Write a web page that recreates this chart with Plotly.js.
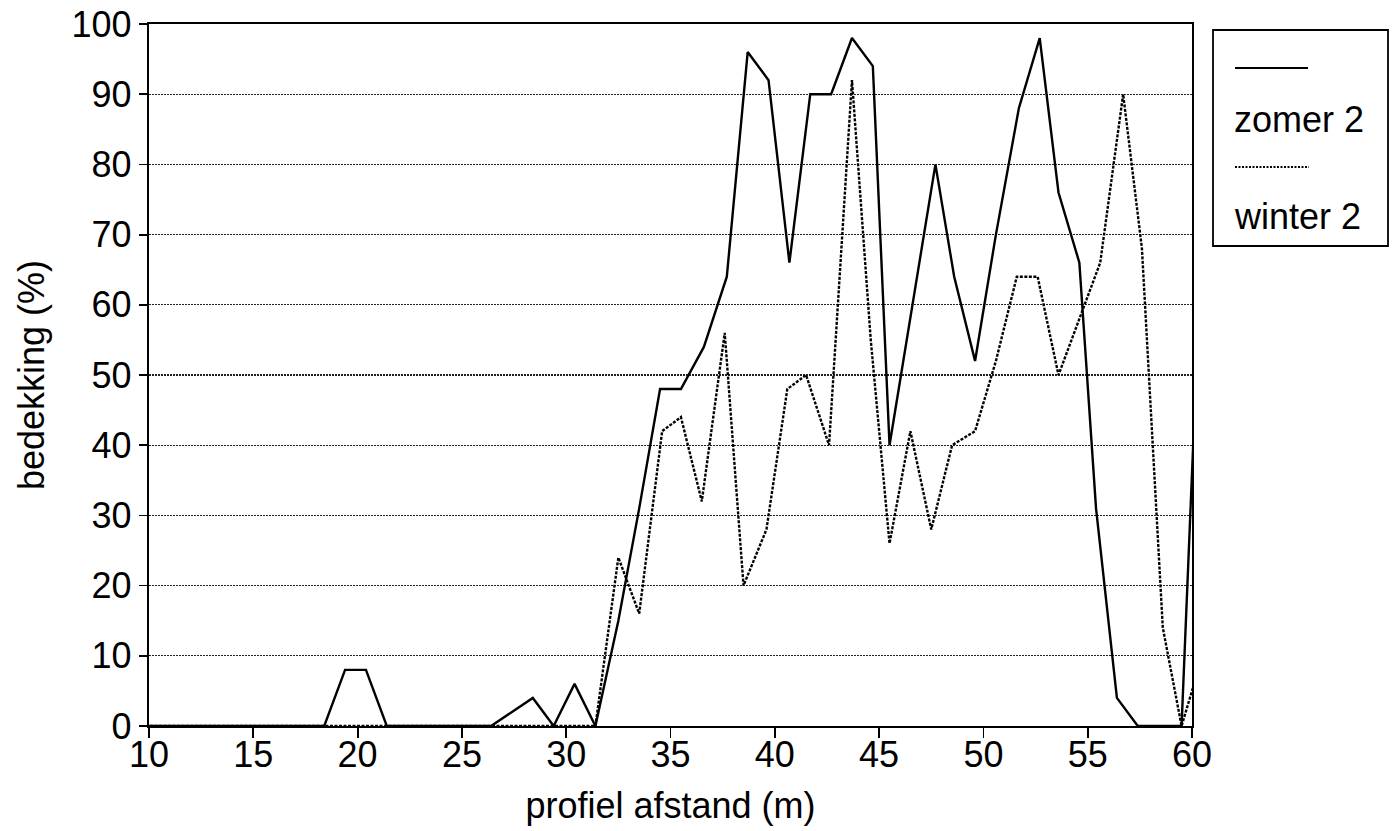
<!DOCTYPE html>
<html>
<head>
<meta charset="utf-8">
<script src="https://cdn.plot.ly/plotly-3.0.1.min.js"></script>
<style>html,body{margin:0;padding:0;background:#fff;}#chart{width:1397px;height:831px;}</style>
</head>
<body>
<div id="chart"></div>
<script>
// profiel afstand (m) positions and bedekking (%) values
const zomerX = [9.4, 10.4, 11.4, 12.4, 13.4, 14.4, 15.4, 16.4, 17.4, 18.4, 19.4, 20.4, 21.4, 22.4, 23.4, 24.4, 25.4, 26.4, 27.4, 28.4, 29.4, 30.4, 31.4,
  32.5, 33.5, 34.5, 35.5, 36.6, 37.7, 38.7, 39.7, 40.7, 41.7, 42.7, 43.7, 44.7, 45.5, 46.6, 47.7, 48.6, 49.6, 50.6, 51.7, 52.7, 53.6, 54.6, 55.4, 56.4, 57.4, 58.5, 59.5, 60.5];
const zomerY = [0, 0, 0, 0, 0, 0, 0, 0, 0, 0, 8, 8, 0, 0, 0, 0, 0, 0, 2, 4, 0, 6, 0,
  15, 31, 48, 48, 54, 64, 96, 92, 66, 90, 90, 98, 94, 40, 60, 80, 64, 52, 70, 88, 98, 76, 66, 31, 4, 0, 0, 0, 72];

const winterX = [9.4, 10.4, 11.4, 12.4, 13.4, 14.4, 15.4, 16.4, 17.4, 18.4, 19.4, 20.4, 21.4, 22.4, 23.4, 24.4, 25.4, 26.4, 27.4, 28.4, 29.4, 30.4, 31.4,
  32.5, 33.5, 34.6, 35.5, 36.5, 37.6, 38.5, 39.6, 40.6, 41.5, 42.6, 43.7, 44.6, 45.5, 46.5, 47.5, 48.5, 49.6, 50.6, 51.6, 52.6, 53.6, 54.6, 55.6, 56.7, 57.6, 58.6, 59.5, 60.5];
const winterY = [0, 0, 0, 0, 0, 0, 0, 0, 0, 0, 0, 0, 0, 0, 0, 0, 0, 0, 0, 0, 0, 0, 0,
  24, 16, 42, 44, 32, 56, 20, 28, 48, 50, 40, 92, 55, 26, 42, 28, 40, 42, 52, 64, 64, 50, 58, 66, 90, 68, 14, 0, 10];

const xTicks = [10, 15, 20, 25, 30, 35, 40, 45, 50, 55, 60];
const yTicks = [0, 10, 20, 30, 40, 50, 60, 70, 80, 90, 100];
const seriesNames = ['zomer 2', 'winter 2'];

const FONT = 'Liberation Sans, Arial, Helvetica, sans-serif';

const traces = [
  {x: zomerX, y: zomerY, name: seriesNames[0], type: 'scatter', mode: 'lines',
   line: {color: '#000', width: 2.4}, showlegend: false},
  {x: winterX, y: winterY, name: seriesNames[1], type: 'scatter', mode: 'lines',
   line: {color: '#000', width: 2.4, dash: '3px,1.5px'}, showlegend: false}
];

// plot area in pixels
const L = 149, R = 1192, T = 24, B = 726;
const px = v => (v - L) / (R - L);
const py = v => (B - v) / (B - T);

const layout = {
  width: 1397, height: 831,
  margin: {l: L, r: 1397 - R, t: T, b: 831 - B, pad: 0},
  paper_bgcolor: '#fff', plot_bgcolor: '#fff',
  font: {family: FONT, size: 36, color: '#000'},
  showlegend: false,
  xaxis: {
    range: [10, 60], tickvals: xTicks, ticktext: xTicks.map(String),
    ticks: 'outside', ticklen: 10, tickwidth: 1.8, tickcolor: '#000',
    ticklabelstandoff: -14, automargin: true,
    showline: true, linewidth: 2.2, linecolor: '#000', mirror: true,
    showgrid: false, zeroline: false,
    tickfont: {family: FONT, size: 36, color: '#000'},
    title: {text: 'profiel afstand (m)', font: {family: FONT, size: 36, color: '#000'}, standoff: 18}
  },
  yaxis: {
    range: [0, 100], tickvals: yTicks, ticktext: yTicks.map(String),
    ticks: 'outside', ticklen: 8, tickwidth: 1.8, tickcolor: '#000',
    showline: true, linewidth: 2.2, linecolor: '#000', mirror: true,
    showgrid: true, gridcolor: '#222', gridwidth: 1.2, griddash: '2px,1px',
    zeroline: false,
    tickfont: {family: FONT, size: 36, color: '#000'},
    title: {text: 'bedekking (%)', font: {family: FONT, size: 36, color: '#000'}, standoff: 16}
  },
  shapes: [
    {type: 'rect', xref: 'paper', yref: 'paper', x0: px(1213), x1: px(1388), y0: py(246), y1: py(30),
     line: {color: '#000', width: 1.8}, fillcolor: 'rgba(0,0,0,0)'},
    {type: 'line', xref: 'paper', yref: 'paper', x0: px(1235), x1: px(1308), y0: py(68), y1: py(68),
     line: {color: '#000', width: 2.2}},
    {type: 'line', xref: 'paper', yref: 'paper', x0: px(1235), x1: px(1309), y0: py(167), y1: py(167),
     line: {color: '#000', width: 2, dash: '2px,1.5px'}}
  ],
  annotations: [
    {xref: 'paper', yref: 'paper', x: px(1232), y: py(120), xanchor: 'left', yanchor: 'middle',
     text: seriesNames[0], showarrow: false, font: {family: FONT, size: 36, color: '#000'}},
    {xref: 'paper', yref: 'paper', x: px(1232), y: py(217), xanchor: 'left', yanchor: 'middle',
     text: seriesNames[1], showarrow: false, font: {family: FONT, size: 36, color: '#000'}}
  ]
};

Plotly.newPlot('chart', traces, layout, {staticPlot: true, displayModeBar: false});
</script>
</body>
</html>
